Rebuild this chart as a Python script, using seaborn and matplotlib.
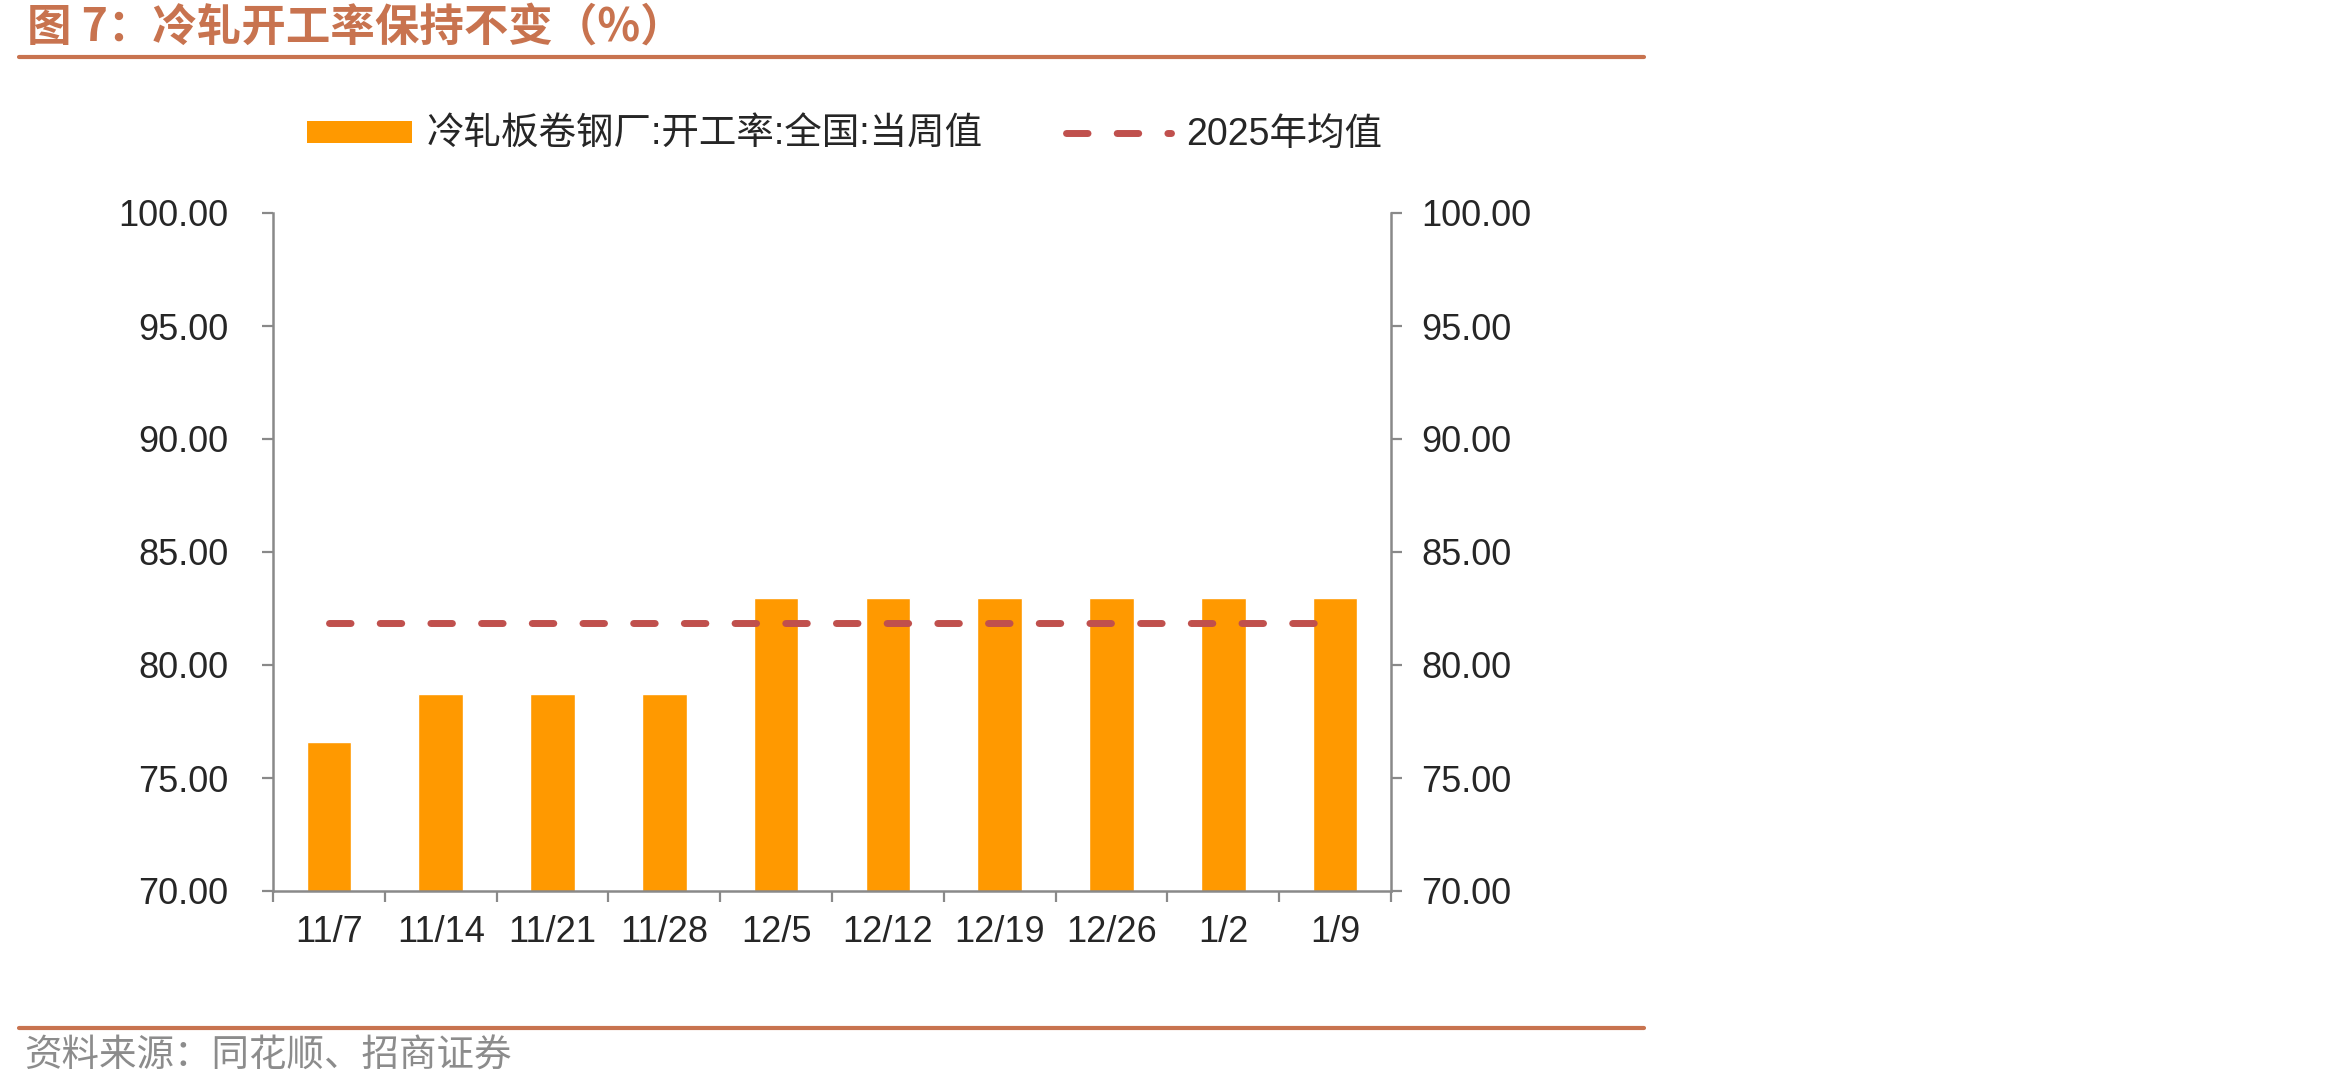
"""
图7：冷轧开工率保持不变（%）
bars: weekly cold-rolled mill operating rate, dashed line: 2025 average
"""

import numpy as np
import pandas as pd
import matplotlib
matplotlib.use("Agg")
import matplotlib.pyplot as plt
from matplotlib.patches import Patch
from matplotlib.lines import Line2D
import seaborn as sns

# data
weeks = ["11/7", "11/14", "11/21", "11/28", "12/5", "12/12", "12/19", "12/26", "1/2", "1/9"]
rate = [76.59, 78.72, 78.72, 78.72, 82.98, 82.98, 82.98, 82.98, 82.98, 82.98]
avg_2025 = [81.86, 81.86, 81.86, 81.86, 81.86, 81.86, 81.86, 81.86, 81.86, 81.86]
y_ticks = [70, 75, 80, 85, 90, 95, 100]

bar_label = "冷轧板卷钢厂:开工率:全国:当周值"
line_label = "2025年均值"
title = "图 7：冷轧开工率保持不变（%）"
source = "资料来源：同花顺、招商证券"

# settings
BAR_COLOR = "#FF9900"
LINE_COLOR = "#C0504D"
ACCENT = "#C8734F"
SPINE = "#898989"
DASH = (0, (3.1, 4.2))


def main():
    sns.set_style("white")
    plt.rcParams["font.family"] = ["Liberation Sans", "Noto Sans CJK SC"]

    df = pd.DataFrame({"week": weeks, "rate": rate})

    fig = plt.figure(figsize=[23.5, 10.88], dpi=100)
    ax = fig.add_axes([273 / 2350, 1 - 891 / 1088, (1391 - 273) / 2350, (891 - 213) / 1088])

    # bars
    sns.barplot(data=df, x="week", y="rate", color=BAR_COLOR, saturation=1,
                width=0.4, ax=ax)

    # average line
    sns.lineplot(x=np.arange(len(weeks)), y=avg_2025, ax=ax, color=LINE_COLOR,
                 linewidth=5, linestyle=DASH, dash_capstyle="round")

    ax.set_xlim(-0.5, len(weeks) - 0.5)
    ax.set_ylim(70, 100)
    ax.set_yticks(y_ticks)
    ax.set_yticklabels([f"{v:.2f}" for v in y_ticks])
    ax.set_xticks(np.arange(len(weeks)))
    ax.set_xticklabels(weeks)
    ax.set_xticks(np.arange(-0.5, len(weeks), 1), minor=True)
    ax.set(xlabel="", ylabel="")

    ax.tick_params(axis="x", which="major", length=0, pad=17, labelsize=26)
    ax.tick_params(axis="x", which="minor", length=8, width=1.6, color=SPINE,
                   direction="out", bottom=True)
    ax.tick_params(axis="y", length=8, width=1.6, color=SPINE, direction="out",
                   left=True, pad=24, labelsize=26)

    # right axis, same scale
    ax2 = ax.twinx()
    ax2.set_ylim(70, 100)
    ax2.set_yticks(y_ticks)
    ax2.set_yticklabels([f"{v:.2f}" for v in y_ticks])
    ax2.tick_params(axis="y", length=8, width=1.6, color=SPINE, direction="out",
                    right=True, pad=14, labelsize=26)

    for a in [ax, ax2]:
        a.spines["top"].set_visible(False)
        for sp in a.spines.values():
            sp.set_color(SPINE)
            sp.set_linewidth(1.8)
    ax.spines["right"].set_visible(False)
    ax2.spines["left"].set_visible(False)
    ax2.spines["bottom"].set_visible(False)

    # legend
    handles = [Patch(facecolor=BAR_COLOR, edgecolor="none"),
               Line2D([0], [0], color=LINE_COLOR, lw=5, ls=DASH, dash_capstyle="round")]
    fig.legend(handles, [bar_label, line_label], loc="center left",
               bbox_to_anchor=(307 / 2350, 1 - 135 / 1088), ncol=2, frameon=False,
               fontsize=27, handlelength=2.8, handleheight=0.54, handletextpad=0.4,
               columnspacing=2.2, borderpad=0, borderaxespad=0)

    # title, rules, source
    fig.text(27 / 2350, 1 - 28 / 1088, title, fontsize=32, fontweight="bold",
             color=ACCENT, va="center", family=["Noto Sans CJK SC", "DejaVu Sans"])
    for y in [57, 1028]:
        fig.add_artist(Line2D([19 / 2350, 1644 / 2350], [1 - y / 1088, 1 - y / 1088],
                              transform=fig.transFigure, color=ACCENT, lw=3))
    fig.text(24 / 2350, 1 - 1056 / 1088, source, fontsize=27, color="#8C8C8C",
             va="center", family=["Noto Sans CJK SC", "DejaVu Sans"])

    fig.savefig("out.png", dpi=100)


if __name__ == "__main__":
    main()
